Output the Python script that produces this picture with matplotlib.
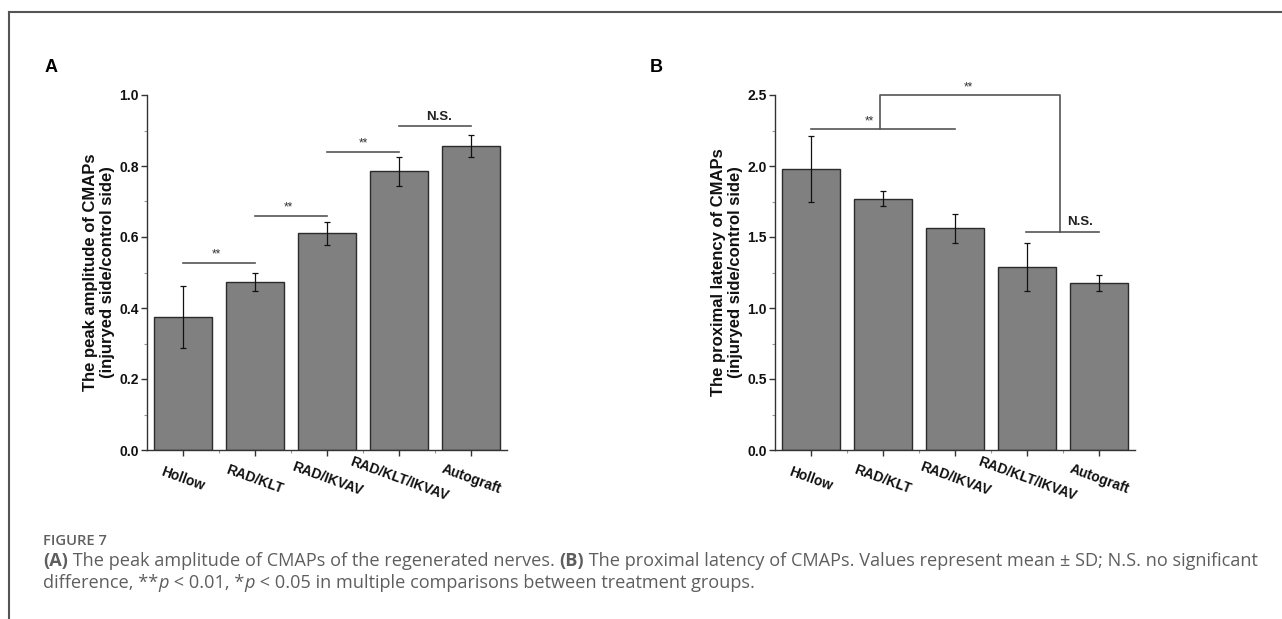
import matplotlib
matplotlib.use("Agg")
import matplotlib.pyplot as plt
from matplotlib.lines import Line2D
from matplotlib.ticker import MultipleLocator, FixedLocator

# ---------------- data ----------------
categories = ["Hollow", "RAD/KLT", "RAD/IKVAV", "RAD/KLT/IKVAV", "Autograft"]
amp_mean = [0.375, 0.473, 0.610, 0.785, 0.855]
amp_sd = [0.087, 0.025, 0.032, 0.040, 0.031]
lat_mean = [1.98, 1.77, 1.56, 1.29, 1.175]
lat_sd = [0.232, 0.053, 0.100, 0.170, 0.058]

amp_ylabel = "The peak amplitude of CMAPs\n(injuryed side/control side)"
lat_ylabel = "The proximal latency of CMAPs\n(injuryed side/control side)"

# significance annotations: (x1, x2, y, label, text_x, text_y)
amp_sig = [(0, 1, 0.528, "**", 0.46, 0.535),
           (1, 2, 0.660, "**", 1.47, 0.667),
           (2, 3, 0.840, "**", 2.50, 0.847),
           (3, 4, 0.914, "N.S.", 3.56, 0.922)]

BAR_COLOR = "#808080"
EDGE = "#2b2b2b"
AX_COLOR = "#333333"
SIG_COLOR = "#555555"
CHART_FONT = "Liberation Sans"
CAP_FONT = "Open Sans"

W, H = 1282, 619
fig = plt.figure(figsize=(W / 100, H / 100), dpi=100)


def setup_axes(rect, means, sds, ylim, major, minor, ylabel):
    ax = fig.add_axes(rect)
    x = list(range(len(categories)))
    ax.bar(x, means, width=0.8, color=BAR_COLOR, edgecolor=EDGE, linewidth=1.0, zorder=2)
    ax.errorbar(x, means, yerr=sds, fmt="none", ecolor="#111111", elinewidth=0.9,
                capsize=2.5, capthick=0.9, zorder=3)
    ax.set_xlim(-0.5, len(categories) - 0.5)
    ax.set_ylim(*ylim)
    for s in ("top", "right"):
        ax.spines[s].set_visible(False)
    for s in ("left", "bottom"):
        ax.spines[s].set_color(AX_COLOR)
        ax.spines[s].set_linewidth(1.0)
    ax.yaxis.set_major_locator(MultipleLocator(major))
    ax.yaxis.set_minor_locator(MultipleLocator(minor))
    ax.set_xticks(x)
    ax.xaxis.set_minor_locator(FixedLocator([i + 0.5 for i in x[:-1]]))
    ax.tick_params(axis="both", which="major", direction="out", length=4, width=1.0,
                   color=AX_COLOR)
    ax.tick_params(axis="both", which="minor", direction="out", length=2.5, width=0.8,
                   color="#999999")
    ax.tick_params(axis="x", which="major", pad=17)
    ax.tick_params(axis="y", which="major", pad=2)
    ax.set_xticklabels(categories, rotation=-20, ha="center", va="center",
                       rotation_mode="anchor", fontsize=10, fontweight="bold",
                       family=CHART_FONT, color="#111111")
    fmt = "{:.1f}"
    ax.set_yticks(ax.get_yticks())
    ax.set_yticklabels([fmt.format(v) for v in ax.get_yticks()], fontsize=10,
                       fontweight="bold", family=CHART_FONT, color="#111111")
    ax.set_ylim(*ylim)
    ax.set_ylabel(ylabel, fontsize=12, fontweight="bold", family=CHART_FONT,
                  color="#111111", labelpad=3, linespacing=1.15)
    return ax


def sig_text(ax, tx, ty, label):
    if label == "N.S.":
        ax.text(tx, ty, label, ha="center", va="bottom", fontsize=9.5, fontweight="bold",
                family=CHART_FONT, color="#222222", clip_on=False)
    else:
        ax.text(tx, ty, label, ha="center", va="bottom", fontsize=8.5,
                family=CHART_FONT, color="#333333", clip_on=False)


axA = setup_axes([147 / W, 1 - 450 / H, 360 / W, 355 / H], amp_mean, amp_sd,
                 (0, 1.0), 0.2, 0.1, amp_ylabel)
for x1, x2, y, lab, tx, ty in amp_sig:
    axA.plot([x1, x2], [y, y], color=SIG_COLOR, lw=1.2, clip_on=False, zorder=4)
    sig_text(axA, tx, ty, lab)

axB = setup_axes([775 / W, 1 - 450 / H, 360 / W, 355 / H], lat_mean, lat_sd,
                 (0, 2.5), 0.5, 0.25, lat_ylabel)
# bracket: Hollow..RAD/IKVAV vs RAD/KLT/IKVAV..Autograft
axB.plot([0, 2], [2.258, 2.258], color=SIG_COLOR, lw=1.2, clip_on=False, zorder=4)
axB.plot([2.98, 4.0], [1.537, 1.537], color=SIG_COLOR, lw=1.2, clip_on=False, zorder=4)
axB.plot([0.96, 0.96, 3.46, 3.46], [2.258, 2.5, 2.5, 1.537], color=SIG_COLOR, lw=1.2,
         clip_on=False, zorder=4)
sig_text(axB, 0.81, 2.27, "**")
sig_text(axB, 2.18, 2.51, "**")
sig_text(axB, 3.74, 1.565, "N.S.")

# panel letters
fig.text(45 / W, 1 - 68 / H, "A", fontsize=13, fontweight="bold", family=CHART_FONT,
         va="center", ha="left")
fig.text(650 / W, 1 - 68 / H, "B", fontsize=13, fontweight="bold", family=CHART_FONT,
         va="center", ha="left")

# frame lines
fig.add_artist(Line2D([9 / W, 1.0], [1 - 12 / H, 1 - 12 / H], color="#555555", lw=1.5))
fig.add_artist(Line2D([9 / W, 9 / W], [0, 1 - 12 / H], color="#555555", lw=1.5))

# caption
CAP_COLOR = "#5e5e5e"
CAP_SIZE = 13.1
fig.text(43 / W, 1 - 541 / H, "FIGURE 7", fontsize=10.6, fontweight="semibold",
         family=CAP_FONT, color="#606060", va="center", ha="left")

renderer = fig.canvas.get_renderer()


def runs(x_px, y_px, parts):
    x = x_px
    for txt, kw in parts:
        t = fig.text(x / W, 1 - y_px / H, txt, fontsize=CAP_SIZE, family=CAP_FONT,
                     color=CAP_COLOR, va="center", ha="left", **kw)
        bb = t.get_window_extent(renderer=renderer)
        x += bb.width


N = {}
B = {"fontweight": "bold"}
I = {"fontstyle": "italic"}
runs(43, 561, [("(A)", B), (" The peak amplitude of CMAPs of the regenerated nerves. ", N),
               ("(B)", B), (" The proximal latency of CMAPs. Values represent mean \u00b1 SD; N.S. no significant", N)])
runs(43, 583, [("difference, **", N), ("p", I), (" < 0.01, *", N), ("p", I),
               (" < 0.05 in multiple comparisons between treatment groups.", N)])

fig.savefig("out.png", dpi=100, facecolor="white")
